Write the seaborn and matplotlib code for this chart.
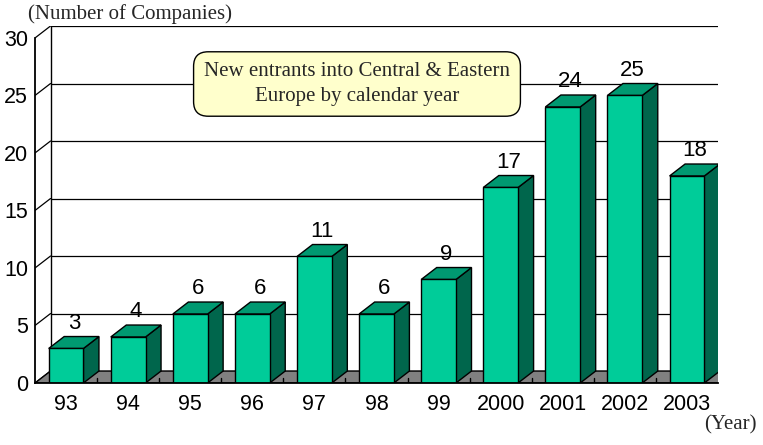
import matplotlib.pyplot as plt
import seaborn as sns
import pandas as pd
from matplotlib.patches import Polygon

years = ['93', '94', '95', '96', '97', '98', '99', '2000', '2001', '2002', '2003']
companies = [3, 4, 6, 6, 11, 6, 9, 17, 24, 25, 18]
yticks = [0, 5, 10, 15, 20, 25, 30]

front_color = '#00CC99'
top_color = '#009971'
side_color = '#00664C'
floor_color = '#808080'

sns.set_style('white')
plt.rcParams['font.family'] = ['Liberation Sans', 'DejaVu Sans']
serif = ['Liberation Serif', 'DejaVu Serif']

fig = plt.figure(figsize=(7.63, 4.45), dpi=100)
ax = fig.add_axes([35 / 763, 62 / 445, 683 / 763, 357 / 445])

# depth of the fake 3d box, in data units
dx, dy = 0.25, 1.04
n = len(years)
left, right = -0.5, n - 0.5
ax.set_xlim(left, right + dx)
ax.set_ylim(0, yticks[-1] + dy)

# back wall + left wall grid
for y in yticks:
    ax.plot([left + dx, right + dx], [y + dy, y + dy], color='black', lw=0.9, zorder=0)
    ax.plot([left, left + dx], [y, y + dy], color='black', lw=0.9, zorder=0)
ax.plot([left + dx, left + dx], [dy, yticks[-1] + dy], color='black', lw=1, zorder=0)
ax.plot([right + dx, right + dx], [dy, yticks[-1] + dy], color='black', lw=1.3, zorder=0)

# floor
ax.add_patch(Polygon([(left, 0), (right, 0), (right + dx, dy), (left + dx, dy)],
                     closed=True, fc=floor_color, ec='black', lw=1, zorder=1))
for k in range(1, n):
    ax.plot([left + k, left + k], [0, 0.45], color='black', lw=1, zorder=1)

df = pd.DataFrame({'year': years, 'companies': companies})
sns.barplot(data=df, x='year', y='companies', color=front_color, saturation=1,
            width=0.56, edgecolor='black', linewidth=1, ax=ax, zorder=3)

for p, v in zip(ax.containers[0], companies):
    x0, w, h = p.get_x(), p.get_width(), p.get_height()
    side = Polygon([(x0 + w, 0), (x0 + w + dx, dy), (x0 + w + dx, h + dy), (x0 + w, h)],
                   closed=True, fc=side_color, ec='black', lw=1, zorder=2)
    top = Polygon([(x0, h), (x0 + dx, h + dy), (x0 + w + dx, h + dy), (x0 + w, h)],
                  closed=True, fc=top_color, ec='black', lw=1, zorder=2)
    ax.add_patch(side)
    ax.add_patch(top)
    ax.text(x0 + w / 2 + dx / 2, h + dy + 0.25, str(v), ha='center', va='bottom',
            fontsize=16, color='black')

for s in ['top', 'right']:
    ax.spines[s].set_visible(False)
ax.spines['left'].set_bounds(0, yticks[-1])
ax.spines['bottom'].set_bounds(left, right)
ax.spines['left'].set_color('black')
ax.spines['bottom'].set_color('black')
ax.spines['left'].set_linewidth(1.3)
ax.spines['bottom'].set_linewidth(1.3)
ax.spines['left'].set_zorder(4)
ax.spines['bottom'].set_zorder(4)

ax.set_yticks(yticks)
ax.set_yticklabels([str(y) for y in yticks])
ax.tick_params(axis='y', length=3, width=1, direction='out', labelsize=15.5, pad=2, colors='black')
ax.tick_params(axis='x', length=0, labelsize=15.5, pad=8, colors='black')
ax.set_xlabel('')
ax.set_ylabel('')

fig.text(28 / 763, 1 - 14 / 445, '(Number of Companies)', ha='left', va='center',
         fontsize=15, family=serif)
fig.text(757 / 763, 1 - 425 / 445, '(Year)', ha='right', va='center',
         fontsize=15, family=serif)
fig.text(357 / 763, 1 - 84 / 445, 'New entrants into Central & Eastern\nEurope by calendar year',
         ha='center', va='center', fontsize=15, family=serif, linespacing=1.4,
         bbox=dict(boxstyle='round,pad=0.5,rounding_size=0.7', fc='#FFFFCC', ec='black', lw=1))

fig.savefig('out.png', dpi=100)
